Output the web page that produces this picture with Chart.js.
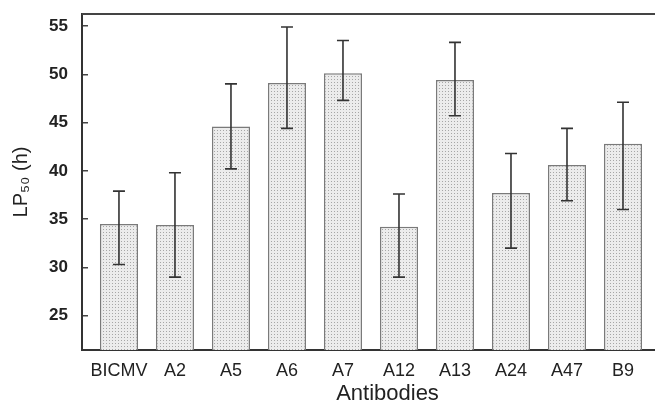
<!DOCTYPE html>
<html>
<head>
<meta charset="utf-8">
<script src="https://cdn.jsdelivr.net/npm/chart.js@4"></script>
<style>
    html, body { margin: 0; padding: 0; background: #fff; overflow: hidden; width: 655px; height: 405px; }
    canvas { display: block; }
</style>
</head>
<body>
<canvas id="lpChart" width="700" height="405"></canvas>
<script>
// 数据
const antibodies = ['BICMV', 'A2', 'A5', 'A6', 'A7', 'A12', 'A13', 'A24', 'A47', 'B9'];
const lp50Mean = [34.5, 34.4, 44.6, 49.1, 50.1, 34.2, 49.4, 37.7, 40.6, 42.8];
const lp50High = [37.9, 39.8, 49.0, 54.9, 53.5, 37.6, 53.3, 41.8, 44.4, 47.1];
const lp50Low = [30.3, 29.0, 40.2, 44.4, 47.3, 29.0, 45.7, 32.0, 36.9, 36.0];
const yTicks = [25, 30, 35, 40, 45, 50, 55];

const FONT = '"Liberation Sans", Arial, Helvetica, sans-serif';

// 点状填充
function makeDots() {
    const c = document.createElement('canvas');
    c.width = 3;
    c.height = 3;
    const g = c.getContext('2d');
    g.fillStyle = '#ececec';
    g.fillRect(0, 0, 3, 3);
    g.fillStyle = '#a6a6a6';
    g.fillRect(1, 1, 1, 1);
    return g.createPattern(c, 'repeat');
}

// 误差线 + 顶部边框
const errorBars = {
    id: 'errorBars',
    afterDatasetsDraw(chart) {
        const ctx = chart.ctx;
        const xs = chart.scales.x;
        const ys = chart.scales.y;
        const area = chart.chartArea;
        ctx.save();
        ctx.strokeStyle = '#333';
        ctx.lineWidth = 1.6;
        lp50Mean.forEach((v, i) => {
            const x = xs.getPixelForValue(i);
            const yh = ys.getPixelForValue(lp50High[i]);
            const yl = ys.getPixelForValue(lp50Low[i]);
            ctx.beginPath();
            ctx.moveTo(x, yh);
            ctx.lineTo(x, yl);
            ctx.moveTo(x - 6, yh);
            ctx.lineTo(x + 6, yh);
            ctx.moveTo(x - 6, yl);
            ctx.lineTo(x + 6, yl);
            ctx.stroke();
        });
        ctx.strokeStyle = '#444';
        ctx.lineWidth = 2;
        ctx.beginPath();
        ctx.moveTo(area.left, area.top);
        ctx.lineTo(area.right, area.top);
        ctx.stroke();
        ctx.restore();
    }
};

new Chart(document.getElementById('lpChart').getContext('2d'), {
    type: 'bar',
    data: {
        datasets: [{
            label: 'LP50',
            data: lp50Mean.map((v, i) => ({ x: i, y: v })),
            backgroundColor: makeDots(),
            borderColor: '#7a7a7a',
            borderWidth: 1.5,
            borderSkipped: 'bottom',
            barPercentage: 0.68,
            categoryPercentage: 1
        }]
    },
    options: {
        responsive: false,
        animation: false,
        devicePixelRatio: 1,
        layout: { padding: { top: 14, right: 7, left: 0, bottom: 0 } },
        plugins: {
            legend: { display: false },
            tooltip: { enabled: false }
        },
        scales: {
            x: {
                type: 'linear',
                offset: false,
                min: -0.66,
                max: 10.25,
                afterBuildTicks: (scale) => {
                    scale.ticks = antibodies.map((_, i) => ({ value: i }));
                },
                afterFit: (scale) => {
                    scale.height = 55;
                    scale.paddingLeft = 0;
                    scale.paddingRight = 0;
                },
                ticks: {
                    callback: (v) => antibodies[v],
                    autoSkip: false,
                    maxRotation: 0,
                    padding: 10,
                    color: '#222',
                    font: { family: FONT, size: 18 }
                },
                grid: { display: false, drawTicks: false, offset: false },
                border: { display: true, color: '#333', width: 2 },
                title: {
                    display: true,
                    text: 'Antibodies',
                    color: '#222',
                    padding: 0,
                    font: { family: FONT, size: 22, lineHeight: 1 }
                }
            },
            y: {
                min: 21.45,
                max: 56.24,
                afterBuildTicks: (scale) => {
                    scale.ticks = yTicks.map(v => ({ value: v }));
                },
                afterFit: (scale) => {
                    scale.width = 82;
                    scale.paddingTop = 0;
                    scale.paddingBottom = 0;
                },
                ticks: {
                    padding: 20,
                    color: '#222',
                    font: { family: FONT, size: 17, weight: 'bold' }
                },
                grid: {
                    drawOnChartArea: false,
                    drawTicks: true,
                    tickLength: -6,
                    color: '#444',
                    lineWidth: 1.5
                },
                border: { display: true, color: '#333', width: 2 },
                title: {
                    display: true,
                    text: 'LP₅₀ (h)',
                    color: '#222',
                    padding: { top: 9, bottom: 0 },
                    font: { family: FONT, size: 20 }
                }
            }
        }
    },
    plugins: [errorBars]
});
</script>
</body>
</html>
